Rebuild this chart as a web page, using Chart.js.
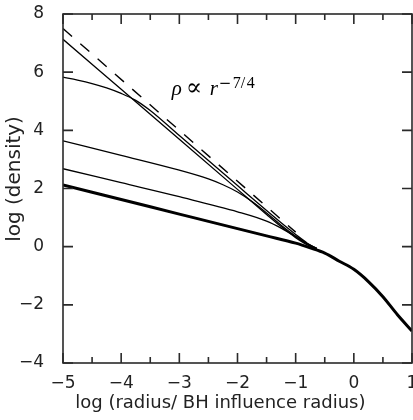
<!DOCTYPE html>
<html>
<head>
<meta charset="utf-8">
<script src="https://cdn.jsdelivr.net/npm/chart.js@4"></script>
<style>
  body { margin: 0; background: #fff; }
  #wrap { width: 413px; height: 420px; position: relative; }
</style>
</head>
<body>
<div id="wrap"><canvas id="densityChart"></canvas></div>
<script>
// log radius (x) and log density (y)

// initial profile (thick line)
const rThick = [-5, -4.5, -4, -3.5, -3, -2.5, -2, -1.5, -1, -0.75, -0.5, -0.25, 0, 0.25, 0.5, 0.75, 1];
const rhoThick = [2.12, 1.87, 1.62, 1.37, 1.12, 0.87, 0.62, 0.37, 0.12, -0.04, -0.22, -0.5, -0.78, -1.2, -1.72, -2.34, -2.9];

// evolved profiles, lowest to highest at the inner edge
const rD = [-5, -4, -3, -2.5, -2, -1.5, -1.25, -1, -0.8, -0.64];
const rhoD = [2.68, 2.2, 1.72, 1.46, 1.2, 0.88, 0.64, 0.35, 0.1, -0.06];

const rC = [-5, -4, -3, -2.5, -2.25, -2, -1.75, -1.5, -1.25, -1, -0.8, -0.64];
const rhoC = [3.64, 3.14, 2.63, 2.33, 2.13, 1.88, 1.55, 1.16, 0.74, 0.36, 0.09, -0.06];

const rB = [-5, -4.75, -4.5, -4.25, -4, -3.75, -3.5, -3, -2.5, -2, -1.5, -1.25, -1, -0.8, -0.64];
const rhoB = [5.83, 5.73, 5.61, 5.46, 5.27, 5.03, 4.68, 3.82, 2.96, 2.1, 1.24, 0.82, 0.42, 0.12, -0.06];

const rA = [-5, -4, -3, -2, -1.5, -1.25, -1, -0.8, -0.64];
const rhoA = [7.13, 5.41, 3.69, 1.97, 1.11, 0.69, 0.31, 0.06, -0.07];

// rho ~ r^-7/4 reference line
const rCusp = [-5, -1];
const rhoCusp = [7.5, 0.5];

const xTicks = [-5, -4, -3, -2, -1, 0, 1];
const yTicks = [-4, -2, 0, 2, 4, 6, 8];

const pts = (xs, ys) => xs.map((x, i) => ({ x: x, y: ys[i] }));
const minus = v => String(v).replace('-', '\u2212');
const nb = n => '\u00a0'.repeat(n);

function curve(xs, ys, width, dash) {
  return {
    data: pts(xs, ys),
    borderColor: '#000',
    borderWidth: width,
    borderDash: dash || [],
    pointRadius: 0,
    tension: 0.4,
    cubicInterpolationMode: 'monotone',
    fill: false
  };
}

// box round the plot with inward ticks, like the original
const frameTicks = {
  id: 'frameTicks',
  afterDraw(chart) {
    const { ctx, chartArea: a, scales: { x, y } } = chart;
    ctx.save();
    ctx.strokeStyle = '#2a2a2a';
    ctx.lineWidth = 1.6;
    ctx.strokeRect(a.left, a.top, a.right - a.left, a.bottom - a.top);
    ctx.beginPath();
    x.ticks.forEach(t => {
      const px = x.getPixelForValue(t.value);
      const len = xTicks.includes(t.value) ? 10 : 6;
      ctx.moveTo(px, a.bottom); ctx.lineTo(px, a.bottom - len);
      ctx.moveTo(px, a.top); ctx.lineTo(px, a.top + len);
    });
    y.ticks.forEach(t => {
      const py = y.getPixelForValue(t.value);
      ctx.moveTo(a.left, py); ctx.lineTo(a.left + 10, py);
      ctx.moveTo(a.right, py); ctx.lineTo(a.right - 10, py);
    });
    ctx.stroke();
    ctx.restore();
  }
};

// "rho ∝ r^-7/4" label, anchored at a data point
const cuspLabel = {
  id: 'cuspLabel',
  afterDatasetsDraw(chart) {
    const { ctx, scales: { x, y } } = chart;
    const px = x.getPixelForValue(-3.13);
    const py = y.getPixelForValue(5.2);
    ctx.save();
    ctx.fillStyle = '#000';
    ctx.textBaseline = 'alphabetic';
    ctx.font = 'italic 21px "Liberation Serif"';
    ctx.fillText('\u03c1', px, py);
    ctx.font = '24px "DejaVu Serif"';
    ctx.fillText('\u221d', px + 14, py);
    ctx.font = 'italic 21px "Liberation Serif"';
    ctx.fillText('r', px + 38, py);
    const sy = py - 7.5;
    ctx.font = '15px "DejaVu Serif"';
    ctx.fillText('\u2212', px + 47, sy);
    ctx.font = '16px "Liberation Serif"';
    ctx.fillText('7', px + 61, sy);
    ctx.fillText('/', px + 69, sy);
    ctx.fillText('4', px + 75, sy);
    ctx.restore();
  }
};

const ctx = document.getElementById('densityChart').getContext('2d');
const densityChart = new Chart(ctx, {
  type: 'line',
  data: {
    datasets: [
      curve(rCusp, rhoCusp, 1.4, [12, 11]),
      curve(rA, rhoA, 1.3),
      curve(rB, rhoB, 1.3),
      curve(rC, rhoC, 1.3),
      curve(rD, rhoD, 1.3),
      curve(rThick, rhoThick, 3)
    ]
  },
  options: {
    responsive: true,
    maintainAspectRatio: false,
    animation: false,
    layout: { padding: { top: 14, right: 1, left: 0, bottom: 0 } },
    plugins: { legend: { display: false }, tooltip: { enabled: false } },
    scales: {
      x: {
        type: 'linear',
        min: -5,
        max: 1,
        grid: { display: false },
        border: { display: false },
        ticks: {
          stepSize: 0.5,
          autoSkip: false,
          maxRotation: 0,
          padding: 2,
          color: '#222',
          font: { family: 'DejaVu Sans', size: 17 },
          callback: v => xTicks.includes(v) ? minus(v) : ''
        },
        title: {
          display: true,
          // trailing spaces pull the title a bit left, as in the original
          text: 'log (radius/ BH influence radius)' + nb(6),
          color: '#222',
          font: { family: 'DejaVu Sans', size: 18 },
          padding: { top: 0, bottom: 6 }
        },
        afterFit: s => { s.height = 57; s.paddingLeft = 0; s.paddingRight = 0; }
      },
      y: {
        min: -4,
        max: 8,
        grid: { display: false },
        border: { display: false },
        ticks: {
          stepSize: 2,
          padding: 11,
          color: '#222',
          font: { family: 'DejaVu Sans', size: 17 },
          callback: v => minus(v)
        },
        title: {
          display: true,
          text: nb(3) + 'log (density)',
          color: '#222',
          font: { family: 'DejaVu Sans', size: 20 },
          padding: { top: 3, bottom: 0 }
        },
        afterFit: s => { s.width = 63; s.paddingTop = 0; s.paddingBottom = 0; }
      }
    }
  },
  plugins: [frameTicks, cuspLabel]
});
</script>
</body>
</html>
